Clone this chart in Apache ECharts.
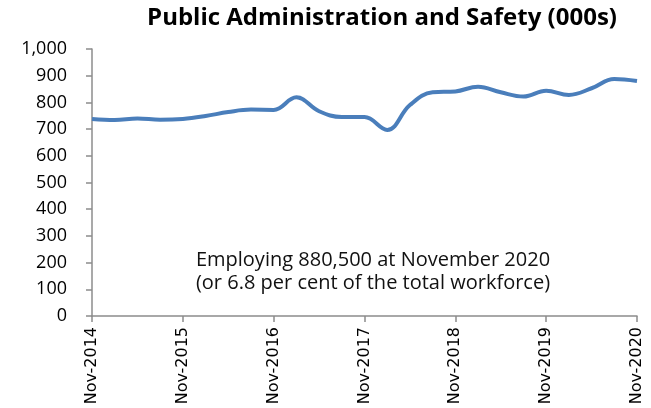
<!DOCTYPE html>
<html><head><meta charset="utf-8">
<script src="https://cdn.jsdelivr.net/npm/echarts@6/dist/echarts.min.js"></script>
<style>html,body{margin:0;padding:0;background:#fff}#c{width:651px;height:408px}</style>
</head><body><div id="c"></div>
<script>
const categories = ["Nov-2014","Feb-2015","May-2015","Aug-2015","Nov-2015","Feb-2016","May-2016","Aug-2016","Nov-2016","Feb-2017","May-2017","Aug-2017","Nov-2017","Feb-2018","May-2018","Aug-2018","Nov-2018","Feb-2019","May-2019","Aug-2019","Nov-2019","Feb-2020","May-2020","Aug-2020","Nov-2020"];
const employment = [738,734,740,735,738,749,764,773,772,819,767,745,745,697,790,838,841,859,838,822,844,828,853,888,880.5];
const titleText = "Public Administration and Safety (000s)";
const noteLines = ["Employing 880,500 at November 2020","(or 6.8 per cent of the total workforce)"];

const chart = echarts.init(document.getElementById('c'), null, {renderer:'canvas'});
chart.setOption({
  animation:false,
  title:[
    {text:titleText, left:377, top:1, textAlign:'center', textStyle:{fontFamily:'Open Sans', fontWeight:'bold', fontSize:24, color:'#000'}},
    {text:noteLines.join('\n'), left:368, top:244, textAlign:'center', textStyle:{fontFamily:'Open Sans', fontWeight:'normal', fontSize:20, lineHeight:23, color:'#111'}}
  ],
  grid:{left:92, right:14, top:49, bottom:92},
  xAxis:{type:'category', data:categories, boundaryGap:false,
    axisLine:{lineStyle:{color:'#8c8c8c', width:1.5}},
    axisTick:{show:true, interval:3, length:6, lineStyle:{color:'#8c8c8c', width:1.5}},
    axisLabel:{interval:3, rotate:90, color:'#000', fontFamily:'DejaVu Sans', fontSize:16, margin:11}},
  yAxis:{type:'value', min:0, max:1000, interval:100,
    axisLine:{show:true, lineStyle:{color:'#8c8c8c', width:1.5}},
    axisTick:{show:true, length:6, lineStyle:{color:'#8c8c8c', width:1.5}},
    splitLine:{show:false},
    axisLabel:{color:'#000', fontFamily:'Open Sans', fontSize:18, margin:25,
      formatter:v=>v.toLocaleString('en-US')}},
  series:[{type:'line', data:employment, smooth:0.4, showSymbol:false,
    lineStyle:{color:'#4a7ebb', width:4}}]
});
</script></body></html>
